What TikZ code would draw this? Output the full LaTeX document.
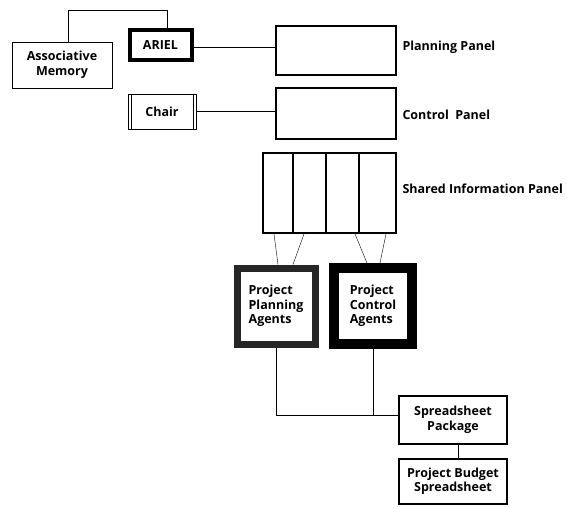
\documentclass[tikz,border=0pt]{standalone}
\usepackage{fontspec}
\setmainfont{Open Sans}[BoldFont={Open Sans Bold}]
\usetikzlibrary{calc}

\begin{document}
\begin{tikzpicture}[x=1pt,y=-1pt,
  box/.style={draw,fill=white,inner sep=2pt,align=center,font=\bfseries\fontsize{12.5}{14.5}\selectfont},
  panel/.style={draw,line width=2pt,minimum width=120pt},
  agent/.style={box,align=left,minimum width=78pt,minimum height=76pt},
  label/.style={anchor=west,font=\bfseries\fontsize{12.5}{14.5}\selectfont}]
\useasboundingbox (0,0) rectangle (568,508);
\coordinate (top) at (0,10);

\node[box,minimum width=100pt,minimum height=46pt] (mem) at (62,65) {Associative\\Memory};
\node[box,line width=4pt,minimum width=62pt,minimum height=30pt] (ariel) at (160.5,45.5) {ARIEL};
\node[box,minimum width=68pt,minimum height=35pt] (chair) at (162,111.5) {Chair};
\draw ([xshift=3pt]chair.north west) -- ([xshift=3pt]chair.south west);
\draw ([xshift=-3pt]chair.north east) -- ([xshift=-3pt]chair.south east);

\node[panel,minimum height=49pt] (plan) at (336,50.5) {};
\node[panel,minimum height=51pt] (ctrl) at (336,113.5) {};
\node[panel,minimum width=133pt,minimum height=80pt] (shared) at (329.5,193) {};
\foreach \x in {31,64,97}
  \draw[line width=2pt] ([xshift=\x pt]shared.north west) -- ([xshift=\x pt]shared.south west);

\node[label] (planlbl) at ([xshift=2pt,yshift=3pt]plan.east) {Planning Panel};
\node[label] (ctrllbl) at ([xshift=2pt,yshift=-1pt]ctrl.east) {Control\ \ Panel};
\node[label] (sharedlbl) at ([xshift=2pt,yshift=4pt]shared.east) {Shared Information Panel};

\node[agent,draw=black!85,line width=7pt] (ppa) at (276,306) {Project\\Planning\\Agents};
\node[agent,line width=10pt] (pca) at (373,306) {Project\\Control\\Agents};

\node[box,line width=2pt,minimum width=108pt,minimum height=48pt] (ssp) at (453,420) {Spreadsheet\\Package};
\node[box,line width=2pt,minimum width=108pt,minimum height=45pt] (pbs) at (453,481.5) {Project Budget\\Spreadsheet};
\coordinate (join) at ([yshift=5pt]ssp.west);

% connectors
\draw ([xshift=6pt]mem.north) |- ([xshift=6.5pt]ariel.north |- top) -- ([xshift=6.5pt]ariel.north);
\draw ([yshift=-1.5pt]ariel.east) -- ([yshift=-1.5pt]ariel.east -| plan.west);
\draw (chair.east) -- (chair.east -| ctrl.west);
\draw ([xshift=12pt]shared.south west) -- ([xshift=2pt]ppa.north);
\draw ([xshift=42pt]shared.south west) -- ([xshift=17pt]ppa.north);
\draw ([xshift=93pt]shared.south west) -- ([xshift=-6pt]pca.north);
\draw ([xshift=124pt]shared.south west) -- ([xshift=7pt]pca.north);
\draw (ppa.south) |- (join);
\draw (pca.south) -- (pca.south |- join);
\draw ([xshift=5pt]ssp.south) -- ([xshift=5pt]pbs.north);
\end{tikzpicture}
\end{document}
